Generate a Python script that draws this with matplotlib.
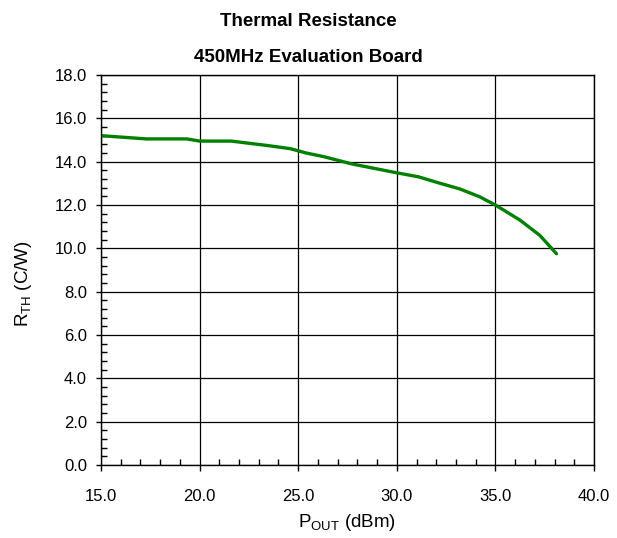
import matplotlib
matplotlib.use("Agg")
import matplotlib.pyplot as plt
from matplotlib.ticker import MultipleLocator, FormatStrFormatter

plt.rcParams['font.family'] = ['Liberation Sans', 'DejaVu Sans']
plt.rcParams['mathtext.fontset'] = 'custom'
plt.rcParams['mathtext.rm'] = 'Liberation Sans'

# Output power (dBm) and thermal resistance (C/W)
pout_dbm = [15.0, 17.3, 19.35, 20.0, 21.6, 23.4, 24.6, 25.4, 26.3, 27.7,
            29.8, 31.1, 32.2, 33.2, 34.2, 35.0, 36.25, 37.25, 38.1]
rth_cw = [15.2, 15.05, 15.05, 14.95, 14.95, 14.75, 14.6, 14.4, 14.23, 13.9,
          13.52, 13.3, 13.0, 12.74, 12.38, 12.0, 11.3, 10.6, 9.75]

title_lines = ["Thermal Resistance", "450MHz Evaluation Board"]

fig = plt.figure(figsize=(6.17, 5.38), dpi=100)
ax = fig.add_axes([0.1637, 0.1357, 0.799, 0.7249])

ax.plot(pout_dbm, rth_cw, color='#008000', lw=2.4, solid_capstyle='round')

ax.set_xlim(15, 40)
ax.set_ylim(0, 18)
ax.xaxis.set_major_locator(MultipleLocator(5))
ax.xaxis.set_minor_locator(MultipleLocator(1))
ax.yaxis.set_major_locator(MultipleLocator(2))
ax.yaxis.set_minor_locator(MultipleLocator(0.4))
ax.xaxis.set_major_formatter(FormatStrFormatter('%.1f'))
ax.yaxis.set_major_formatter(FormatStrFormatter('%.1f'))

ax.grid(which='major', color='black', lw=0.9)
ax.tick_params(which='major', direction='out', length=4.5, width=1, labelsize=12,
               colors='black')
ax.tick_params(axis='y', which='major', length=3.5, pad=6.5)
ax.tick_params(axis='x', which='major', pad=13)
ax.tick_params(which='minor', direction='in', length=4, width=1)
for s in ax.spines.values():
    s.set_color('black')
    s.set_linewidth(1)

ax.set_xlabel(r"P$_{\mathrm{OUT}}$ (dBm)", fontsize=13.5, va='center', ha='center')
ax.xaxis.set_label_coords(0.5, -(523 - 465) / 390)
ax.set_ylabel(r"R$_{\mathrm{TH}}$ (C/W)", fontsize=13.5, va='center', ha='center')
ax.yaxis.set_label_coords(-(101 - 23) / 493, (465 - 284) / 390)

# Two-line title, each line placed on its own baseline
fig.text(0.5, 1 - 26 / 538, title_lines[0], fontsize=13.5, fontweight='bold',
         ha='center', va='baseline')
fig.text(0.5, 1 - 62 / 538, title_lines[1], fontsize=13.5, fontweight='bold',
         ha='center', va='baseline')

fig.savefig("out.png", dpi=100)
